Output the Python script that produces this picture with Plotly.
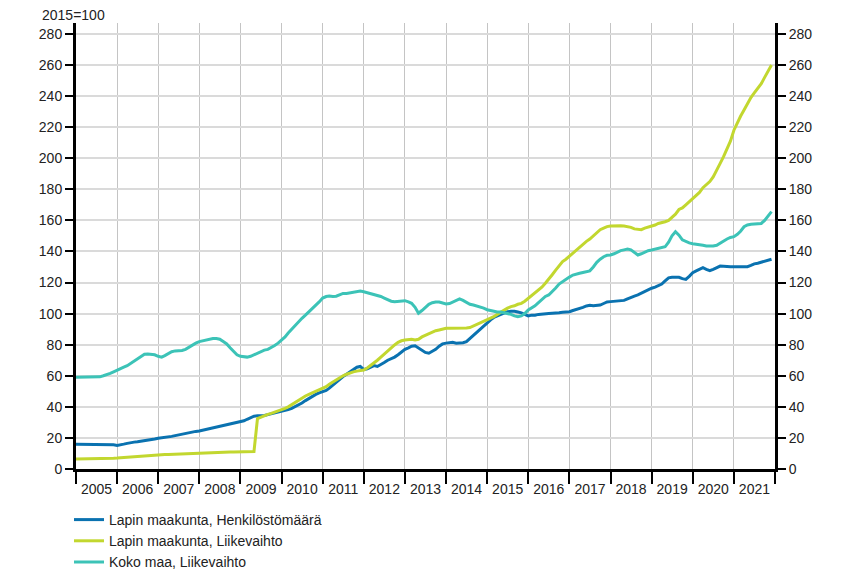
import plotly.graph_objects as go

years = list(range(2005, 2022))

# Lapin maakunta, Henkilöstömäärä (monthly, 2015=100)
henkilosto = [
    16, 16, 16, 16, 16, 16, 16, 16, 16, 16, 15.8, 15.6,
    15.2, 15.4, 16, 16.5, 17, 17.3, 17.5, 17.8, 18, 18.5, 19, 19.3,
    19.8, 20, 20.3, 20.6, 21, 21.5, 22, 22.5, 23, 23.3, 23.7, 24.2,
    24.5, 25, 25.5, 26, 26.5, 27, 27.5, 28, 28.5, 29, 29.5, 30,
    30.3, 31, 32, 33, 34, 34.2, 34.3, 34.5, 35, 35.5, 36, 36.5,
    37, 37.5, 38.2, 39, 40, 41, 42.5, 44, 45.5, 47, 48, 49,
    49.7, 50.5, 52, 54, 56, 58, 59.5, 61, 62.5, 64, 65.5, 66,
    64, 64.5, 65.5, 66.5, 66, 67, 68.5, 70, 71, 72, 73.5, 75.5,
    77, 78, 79, 79.3, 78, 76.5, 75, 74.5, 75.5, 77, 79, 80.5,
    81, 81.5, 81.5, 81, 81, 81.3, 82, 84, 86, 88, 90, 92,
    94.5, 96, 97.5, 98.5, 99.5, 100.5, 101.2, 101.5, 101.5, 101, 100.5, 99.5,
    98.5, 99, 99, 99.5, 99.8, 100, 100, 100.2, 100.2, 100.5, 100.8, 101,
    101.2, 102, 102.5, 103, 104, 104.9, 105.3, 105, 105.2, 105.5, 106.5, 107.5,
    107.7, 108, 108.2, 108.3, 108.5, 109.5, 110.5, 111.3, 112, 113, 114, 115.5,
    116.3, 117, 117.8, 119, 121, 123, 123.4, 123.4, 123.4, 122.5, 122, 124,
    126.3, 127.5, 128.5, 129.5, 128.5, 127.6, 128.5, 129.5, 130.6, 130.5, 130.2, 130.2,
    130.2, 130.2, 130.2, 130.2, 130.2, 131, 132, 132.4, 133, 133.5, 134.3, 135,
]

# Lapin maakunta, Liikevaihto
lapin_liikevaihto = [
    6.5, 6.5, 6.5, 6.5, 6.5, 6.5, 6.5, 6.6, 6.6, 6.7, 6.8, 6.9,
    7, 7.2, 7.4, 7.6, 7.8, 8, 8.2, 8.3, 8.5, 8.6, 8.8, 8.9,
    9, 9.1, 9.3, 9.4, 9.5, 9.7, 9.8, 10, 10.1, 10.2, 10.3, 10.4,
    10.5, 10.6, 10.7, 10.8, 10.9, 11, 11, 11, 11, 11, 11, 11,
    11, 11, 11.1, 11.2, 11.3, 32.5, 33.5, 34.5, 35.2, 35.8, 36.5, 37.5,
    38, 39, 40, 41.5, 43, 44.5, 46, 47, 48, 49, 50, 51,
    52, 53, 54.5, 56, 57.5, 59, 60, 61, 62, 62.5, 63, 63.5,
    63.7, 65, 66.5, 68, 70, 72, 74, 76, 78, 79.8, 81.5, 82.5,
    83, 83.5, 83.5, 83, 83.5, 85, 86, 87, 88, 89, 89.5, 90,
    90.5, 90.5, 90.5, 90.5, 90.5, 90.7, 90.8, 91, 92, 93.5, 94, 95,
    96, 97, 98, 99.5, 101, 102.5, 103.5, 104.5, 105, 106, 106.6, 108,
    109.8, 111.5, 113, 115, 117, 119.5, 122, 125, 128, 131, 133.5, 135,
    137, 139, 141, 143, 145, 146.5, 148, 150, 152, 154, 155, 156,
    156.4, 156.6, 156.6, 156.5, 156.4, 156, 155.5, 154.5, 154, 154, 155, 155.5,
    156.4, 157, 158, 158.5, 159.1, 160, 162, 164, 167, 168, 170, 172,
    174.2, 176, 178, 181, 183, 185, 188, 192, 196.7, 201, 206, 211,
    218, 223, 227, 231, 235, 239, 242, 245, 248, 252, 256, 260,
]

# Koko maa, Liikevaihto
koko_maa = [
    59, 59, 59, 59, 59, 59, 59, 59.3, 60, 60.5, 61.5, 62.5,
    63.7, 64.5, 65.5, 66.5, 68, 69.5, 71, 72.5, 73.8, 74, 73.8, 73.5,
    72.5, 72, 73, 74.5, 75.5, 76, 76.1, 76.3, 77, 78.5, 80, 81,
    82, 82.5, 83, 83.5, 84, 84, 83.5, 82, 80.5, 78, 75.5, 73.5,
    72.5, 72, 72, 72.5, 73.5, 75, 75.5, 76.5, 77, 78, 79.5, 81,
    83, 85, 87.5, 90, 92.5, 95, 97, 99, 101, 103, 105, 107.5,
    110, 111, 111.3, 111, 111.2, 112, 113, 113, 113.3, 113.5, 114, 114.5,
    114.1, 113.5, 113, 112.5, 112, 111, 110, 109, 108, 107.7, 108, 108.3,
    108.3, 107.5, 106.6, 104, 100.2, 102, 104, 106, 107, 107.5, 107.5, 107,
    106.2, 106.5, 107.5, 108.7, 109.5, 108.5, 107, 106, 105.5, 105, 104.4, 103.5,
    102.5, 101.9, 101.5, 101, 101, 100.5, 100.2, 99.5, 98.5, 98, 98.5, 100,
    102.3, 103.5, 105, 107, 109, 111, 112, 114, 116.5, 119, 120.5, 122.5,
    123.5, 124.8, 125.5, 126, 126.5, 127, 127.5, 130, 133, 135, 136.6, 137.5,
    137.7, 138.5, 139.5, 140.5, 141, 141.5, 141, 139.5, 137.7, 138.5, 139.5, 140.5,
    140.9, 141.5, 142, 142.5, 143, 146, 150, 152.7, 150.5, 147.5, 146.3, 145.5,
    145, 144.8, 144.5, 144, 143.5, 143.5, 143.5, 144, 145.5, 147, 148, 149,
    149.5, 151, 153, 155.9, 157, 157.5, 157.7, 157.7, 158, 160, 163, 165.6,
]

y_ticks = list(range(0, 281, 20))

dates = [f"{y}-{m:02d}-01" for y in years for m in range(1, 13)]

series = [
    ("Lapin maakunta, Henkilöstömäärä", henkilosto, "#0A72B0", "y"),
    ("Lapin maakunta, Liikevaihto", lapin_liikevaihto, "#C2D72F", "y"),
    ("Koko maa, Liikevaihto", koko_maa, "#3CC3B7", "y2"),
]

FONT = "Arial, Liberation Sans, sans-serif"

W, H = 851, 572

fig = go.Figure()
for name, vals, col, ax in series:
    fig.add_trace(go.Scatter(x=dates, y=vals, name=name, mode="lines", yaxis=ax,
                             line=dict(color=col, width=3)))

yax_common = dict(
    range=[0, 287], tickvals=y_ticks, ticks="outside", ticklen=8, tickwidth=2,
    tickcolor="black", showline=True, linecolor="black", linewidth=3,
    tickfont=dict(family=FONT, size=14, color="#222"), zeroline=False,
    automargin=False,
)

fig.update_layout(
    width=W, height=H,
    margin=dict(l=76, r=76, t=23, b=103, autoexpand=False),
    paper_bgcolor="white", plot_bgcolor="white",
    font=dict(family=FONT, size=14, color="#222"),
    xaxis=dict(
        type="date", range=["2005-01-01", "2022-01-01"],
        dtick="M12", tick0="2005-01-01", tickformat="%Y",
        ticklabelmode="period", ticklabelstandoff=-7,
        ticks="outside", ticklen=12, tickwidth=2, tickcolor="black",
        showline=True, linecolor="black", linewidth=3,
        showgrid=True, gridcolor="#C4C4C4", gridwidth=1,
        tickfont=dict(family=FONT, size=14, color="#222"),
        automargin=False,
    ),
    yaxis=dict(showgrid=True, gridcolor="#DADADA", gridwidth=2, **yax_common),
    yaxis2=dict(overlaying="y", side="right", showgrid=False, **yax_common),
    legend=dict(
        orientation="v", xref="container", yref="container",
        x=69 / W, xanchor="left", y=1 - 504 / H, yanchor="top",
        font=dict(family=FONT, size=14, color="#222"),
        tracegroupgap=0, itemwidth=30, bgcolor="rgba(0,0,0,0)",
    ),
    showlegend=True,
    annotations=[dict(
        text="2015=100", xref="paper", yref="paper", x=-0.052, y=1.0,
        xanchor="left", yanchor="bottom", yshift=-2, showarrow=False,
        font=dict(family=FONT, size=14, color="#222"),
    )],
)

# remove the default 8px page margin so the figure fills the window exactly
fig.write_html("out.html", config={"displayModeBar": False},
               post_script="document.body.style.margin='0px';")
